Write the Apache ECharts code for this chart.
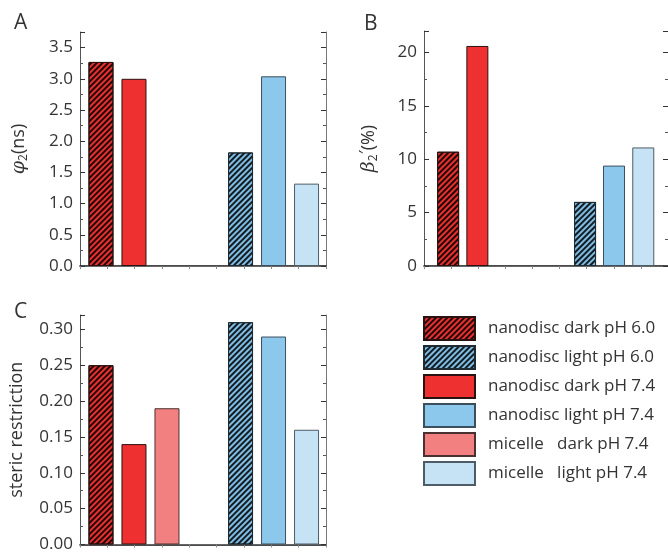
<!DOCTYPE html>
<html lang="en">
<head>
<meta charset="utf-8">
<title>nanodisc / micelle</title>
<script src="https://cdn.jsdelivr.net/npm/echarts@6/dist/echarts.min.js"></script>
<style>
  html, body { margin: 0; padding: 0; background: #fff; }
  #main { width: 668px; height: 553px; }
</style>
</head>
<body>
<div id="main"></div>
<script>
// bar order, left to right
var groups = ['nanodisc dark pH 6.0', 'nanodisc dark pH 7.4', 'micelle   dark pH 7.4',
              'nanodisc light pH 6.0', 'nanodisc light pH 7.4', 'micelle   light pH 7.4'];
var phiValues = [3.27, 3.0, null, 1.82, 3.04, 1.32];      // A, ns
var betaValues = [10.7, 20.6, null, 6.0, 9.4, 11.1];      // B, %
var stericValues = [0.25, 0.14, 0.19, 0.31, 0.29, 0.16];  // C
var legendOrder = [0, 3, 1, 4, 2, 5];

var TXT = '#333';
var FONT = 'Open Sans';

function hatch() {
  return { symbol: 'rect', symbolSize: 1, dashArrayX: [1, 0], dashArrayY: [1.2, 1.6],
           rotation: -Math.PI / 4, color: 'rgba(0,0,0,0.85)' };
}
var styles = [
  { color: '#e8312f', borderColor: '#2a1212', borderWidth: 1, decal: hatch() },
  { color: '#ee3130', borderColor: '#2a1212', borderWidth: 1 },
  { color: '#f28080', borderColor: '#4a3030', borderWidth: 1 },
  { color: '#7fbde3', borderColor: '#1f2a33', borderWidth: 1, decal: hatch() },
  { color: '#8cc7ec', borderColor: '#3d4f5c', borderWidth: 1 },
  { color: '#c6e2f5', borderColor: '#4d5c66', borderWidth: 1 }
];

// slot positions along each panel's x axis
var slotsAC = [1, 2, 3, 5.23, 6.23, 7.23];
var slotsB = [1, 2, 3, 5.68, 6.67, 7.67];

var panels = [
  { letter: 'A', grid: { left: 80, top: 32, width: 246, height: 234 },
    values: phiValues, slots: slotsAC, xMin: 0.364, xMax: 7.82, barWidth: 25,
    yMax: 3.75, interval: 0.5, digits: 1, nameGap: 50,
    name: '{i|φ}{s|2}{n|(ns)}', letterPos: [9, 8] },
  { letter: 'B', grid: { left: 424, top: 31, width: 246, height: 235 },
    values: betaValues, slots: slotsB, xMin: 0.176, xMax: 8.515, barWidth: 22,
    yMax: 22, interval: 5, digits: 0, nameGap: 44,
    name: '{i|β}{s|2}{p|′}{n|(%)}', letterPos: [359, 9] },
  { letter: 'C', grid: { left: 80, top: 315, width: 246, height: 233 },
    values: stericValues, slots: slotsAC, xMin: 0.364, xMax: 7.82, barWidth: 25,
    yMax: 0.32, interval: 0.05, digits: 2, nameGap: 54,
    name: 'steric restriction', letterPos: [9, 297] }
];

var nameRich = {
  i: { fontFamily: 'DejaVu Serif', fontStyle: 'italic', fontSize: 19, color: TXT, lineHeight: 22 },
  s: { fontFamily: FONT, fontSize: 12, color: TXT, lineHeight: 11, verticalAlign: 'bottom' },
  p: { fontFamily: FONT, fontSize: 17, color: TXT, lineHeight: 13, verticalAlign: 'top' },
  n: { fontFamily: FONT, fontSize: 18, color: TXT, lineHeight: 22 }
};

var grids = [], xAxes = [], yAxes = [], series = [], titles = [];

panels.forEach(function (p, i) {
  grids.push(p.grid);
  titles.push({ text: p.letter, left: p.letterPos[0], top: p.letterPos[1],
    textStyle: { fontFamily: FONT, fontSize: 21, fontWeight: 'normal', color: TXT } });

  xAxes.push({
    type: 'value', gridIndex: i, min: p.xMin, max: p.xMax, position: 'bottom',
    axisLine: { show: true, onZero: false, lineStyle: { color: '#111', width: 1.5 } },
    axisTick: { show: false }, axisLabel: { show: false }, splitLine: { show: false }
  });
  xAxes.push({
    type: 'value', gridIndex: i, min: 0, max: 9, interval: 1, position: 'top',
    axisLine: { show: true, lineStyle: { color: '#666', width: 1 } },
    axisTick: { show: true, inside: true, length: 3, lineStyle: { color: '#888' } },
    axisLabel: { show: false }, splitLine: { show: false }
  });

  var yCommon = {
    type: 'value', gridIndex: i, min: 0, max: p.yMax, interval: p.interval,
    splitLine: { show: false },
    minorTick: { show: true, splitNumber: 2, length: 3, lineStyle: { color: '#555' } },
    minorSplitLine: { show: false }
  };
  yAxes.push(Object.assign({}, yCommon, {
    position: 'left',
    name: p.name, nameLocation: 'middle', nameGap: p.nameGap, nameRotate: 90,
    nameTextStyle: { fontFamily: FONT, fontSize: 18, color: TXT, rich: nameRich },
    axisLine: { show: true, lineStyle: { color: '#555', width: 1 } },
    axisTick: { show: true, inside: true, length: 5, lineStyle: { color: '#333' } },
    axisLabel: {
      show: true, margin: 7, showMaxLabel: false, color: TXT,
      fontFamily: FONT, fontSize: 17,
      formatter: function (v) { return v.toFixed(p.digits); }
    }
  }));
  yAxes.push(Object.assign({}, yCommon, {
    position: 'right',
    axisLine: { show: true, lineStyle: { color: '#777', width: 1 } },
    axisTick: { show: true, inside: true, length: 5, lineStyle: { color: '#333' } },
    axisLabel: { show: false }
  }));

  p.values.forEach(function (v, j) {
    if (v == null) return;
    series.push({
      type: 'bar', name: groups[j],
      xAxisIndex: 2 * i, yAxisIndex: 2 * i,
      barWidth: p.barWidth, barGap: '-100%',
      itemStyle: styles[j],
      emphasis: { disabled: true },
      data: [[p.slots[j], v]]
    });
  });
});

var chart = echarts.init(document.getElementById('main'), null, { renderer: 'canvas' });
chart.setOption({
  animation: false,
  backgroundColor: '#fff',
  title: titles,
  grid: grids,
  xAxis: xAxes,
  yAxis: yAxes,
  legend: {
    data: legendOrder.map(function (k) { return groups[k]; }),
    orient: 'vertical', left: 423, top: 316, padding: 0,
    itemWidth: 51, itemHeight: 23, itemGap: 4,
    icon: 'rect', selectedMode: false,
    textStyle: { fontFamily: FONT, fontSize: 17, color: TXT, padding: [0, 0, 0, 8] }
  },
  series: series
});
</script>
</body>
</html>
